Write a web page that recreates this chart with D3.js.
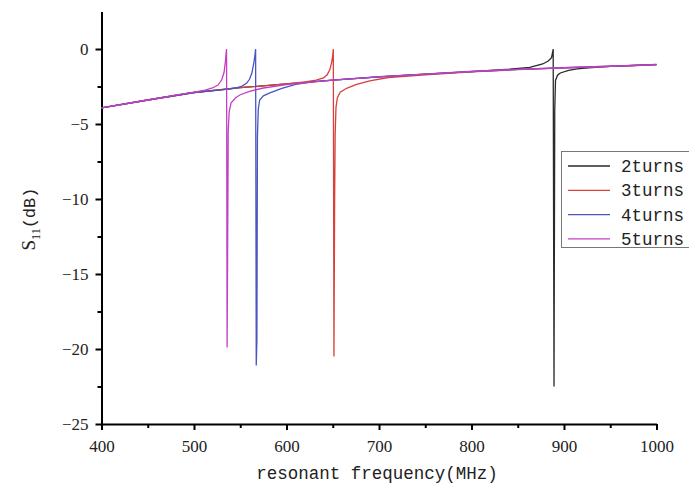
<!DOCTYPE html>
<html lang="en">
<head>
<meta charset="UTF-8">
<title>S11 vs resonant frequency</title>
<script src="https://cdn.jsdelivr.net/npm/d3@7"></script>
<style>
  body { margin: 0; background: #fff; }
  svg { display: block; }
  .serif { font-family: "Liberation Serif", "Times New Roman", "DejaVu Serif", serif; }
  .mono { font-family: "Liberation Mono", "DejaVu Sans Mono", monospace; }
</style>
</head>
<body>
<svg id="main" width="689" height="488"></svg>
<script>
// values: [frequency MHz, S11 dB]
const turns2 = [[400,-3.93],[450,-3.40],[500,-2.90],[550,-2.58],[600,-2.32],[650,-2.07],[700,-1.86],
  [750,-1.68],[800,-1.51],[841,-1.35],[863,-1.22],[877,-1.0],[883,-0.8],[886.5,-0.58],[887.6,-0.25],
  [888.3,0],[889.2,-22.5],[890,-4.1],[890.8,-2.1],[893,-1.75],[896,-1.6],[905,-1.42],[914,-1.33],
  [930,-1.24],[950,-1.16],[975,-1.1],[1000,-1.03]];
const turns3 = [[400,-3.93],[450,-3.40],[500,-2.90],[550,-2.58],[600,-2.32],[620,-2.2],[632,-2.08],
  [640,-1.93],[644,-1.72],[647,-1.35],[649,-0.85],[650,-0.4],[650.6,0],[651.3,-20.5],[652,-10.4],
  [652.6,-5.7],[653.5,-3.9],[655,-3.25],[658,-2.88],[665,-2.62],[675,-2.38],[690,-2.12],[710,-1.9],
  [750,-1.72],[800,-1.53],[850,-1.38],[900,-1.26],[950,-1.16],[1000,-1.05]];
const turns4 = [[400,-3.93],[450,-3.40],[500,-2.90],[530,-2.72],[545,-2.6],[552,-2.47],[557,-2.27],
  [560,-2.02],[562.5,-1.62],[564.5,-1.0],[565.8,-0.45],[566.6,0],[567.3,-21.1],[568,-19.4],
  [568.6,-5.8],[569.5,-4.0],[571,-3.4],[575,-3.12],[582,-2.92],[595,-2.62],[610,-2.36],[630,-2.18],
  [650,-2.07],[700,-1.85],[750,-1.67],[800,-1.5],[850,-1.36],[900,-1.25],[950,-1.15],[1000,-1.04]];
const turns5 = [[400,-3.93],[450,-3.40],[480,-3.08],[500,-2.88],[512,-2.74],[520,-2.6],[526,-2.4],
  [530,-2.05],[532.5,-1.55],[534,-0.8],[534.8,-0.2],[535.2,0],[535.8,-19.9],[536.4,-13.0],[537,-5.5],
  [538,-4.2],[540,-3.6],[545,-3.25],[550,-3.05],[560,-2.82],[575,-2.6],[600,-2.37],[650,-2.08],
  [700,-1.86],[750,-1.68],[800,-1.5],[850,-1.36],[900,-1.25],[950,-1.15],[1000,-1.04]];

const seriesNames = ['2turns', '3turns', '4turns', '5turns'];
const seriesData = [turns2, turns3, turns4, turns5];
const lineColors = ['#2a2a2a', '#d9403a', '#4a55c0', '#c43fc4'];

const xTicks = [400, 500, 600, 700, 800, 900, 1000];
const yTicks = [0, -5, -10, -15, -20, -25];

let svg = d3.select('svg#main');
let x = d3.scaleLinear().domain([400, 1000]).range([101.5, 656.5]);
let y = d3.scaleLinear().domain([-25, 2.5]).range([424, 11.5]);

// minor ticks
svg.append('g')
  .attr('transform', 'translate(0,424)')
  .call(d3.axisBottom(x).tickValues(d3.range(450, 1000, 100)).tickSize(4).tickFormat(''))
  .call(g => g.select('.domain').remove())
  .selectAll('line').attr('stroke', '#000').attr('stroke-width', 2);
svg.append('g')
  .attr('transform', 'translate(101.5,0)')
  .call(d3.axisLeft(y).tickValues([-22.5, -17.5, -12.5, -7.5, -2.5]).tickSize(4).tickFormat(''))
  .call(g => g.select('.domain').remove())
  .selectAll('line').attr('stroke', '#000').attr('stroke-width', 2);

// major axes
let xAxis = svg.append('g')
  .attr('transform', 'translate(0,424)')
  .call(d3.axisBottom(x).tickValues(xTicks).tickSize(6).tickSizeOuter(0).tickPadding(10)
    .tickFormat(d3.format('d')));
let yAxis = svg.append('g')
  .attr('transform', 'translate(101.5,0)')
  .call(d3.axisLeft(y).tickValues(yTicks).tickSize(6).tickSizeOuter(0).tickPadding(7)
    .tickFormat(d => d < 0 ? '\u2212' + Math.abs(d) : d));
[xAxis, yAxis].forEach(a => {
  a.attr('font-family', null).attr('font-size', null);
  a.select('.domain').attr('stroke', '#000').attr('stroke-width', 2);
  a.selectAll('line').attr('stroke', '#000').attr('stroke-width', 2);
  a.selectAll('text').attr('class', 'serif').attr('fill', '#222').attr('font-size', 17);
});

// curves
let line = d3.line().x(d => x(d[0])).y(d => y(d[1]));
seriesData.forEach((data, i) => {
  svg.append('path')
    .datum(data)
    .attr('d', line)
    .attr('fill', 'none')
    .attr('stroke', lineColors[i])
    .attr('stroke-width', 1.3);
});

// axis titles
svg.append('text')
  .attr('class', 'mono')
  .attr('x', 377).attr('y', 479)
  .attr('text-anchor', 'middle')
  .attr('font-size', 17.5)
  .attr('fill', '#222')
  .text('resonant frequency(MHz)');

let yTitle = svg.append('text')
  .attr('class', 'serif')
  .attr('transform', 'translate(35,219) rotate(-90)')
  .attr('text-anchor', 'middle')
  .attr('fill', '#222')
  .attr('font-size', 19);
yTitle.append('tspan').text('S');
yTitle.append('tspan').attr('dy', 5).attr('font-size', 12).text('11');
yTitle.append('tspan').attr('dy', -5).attr('class', 'mono').attr('font-size', 17).text('(dB)');

// legend
let legend = svg.append('g');
legend.append('rect')
  .attr('x', 561.5).attr('y', 151.5).attr('width', 140).attr('height', 96)
  .attr('fill', '#fff').attr('stroke', '#777').attr('stroke-width', 1);
let item = legend.selectAll('.lineLegend').data(seriesNames)
  .enter().append('g')
  .attr('class', 'lineLegend')
  .attr('transform', (d, i) => 'translate(568,' + (166 + i * 24.3) + ')');
item.append('line')
  .attr('x1', 0).attr('x2', 42)
  .attr('stroke', (d, i) => lineColors[i]).attr('stroke-width', 1.3);
item.append('text')
  .attr('class', 'mono')
  .attr('x', 53).attr('dy', '0.35em')
  .attr('font-size', 17.5)
  .attr('fill', '#222')
  .text(d => d);
</script>
</body>
</html>
